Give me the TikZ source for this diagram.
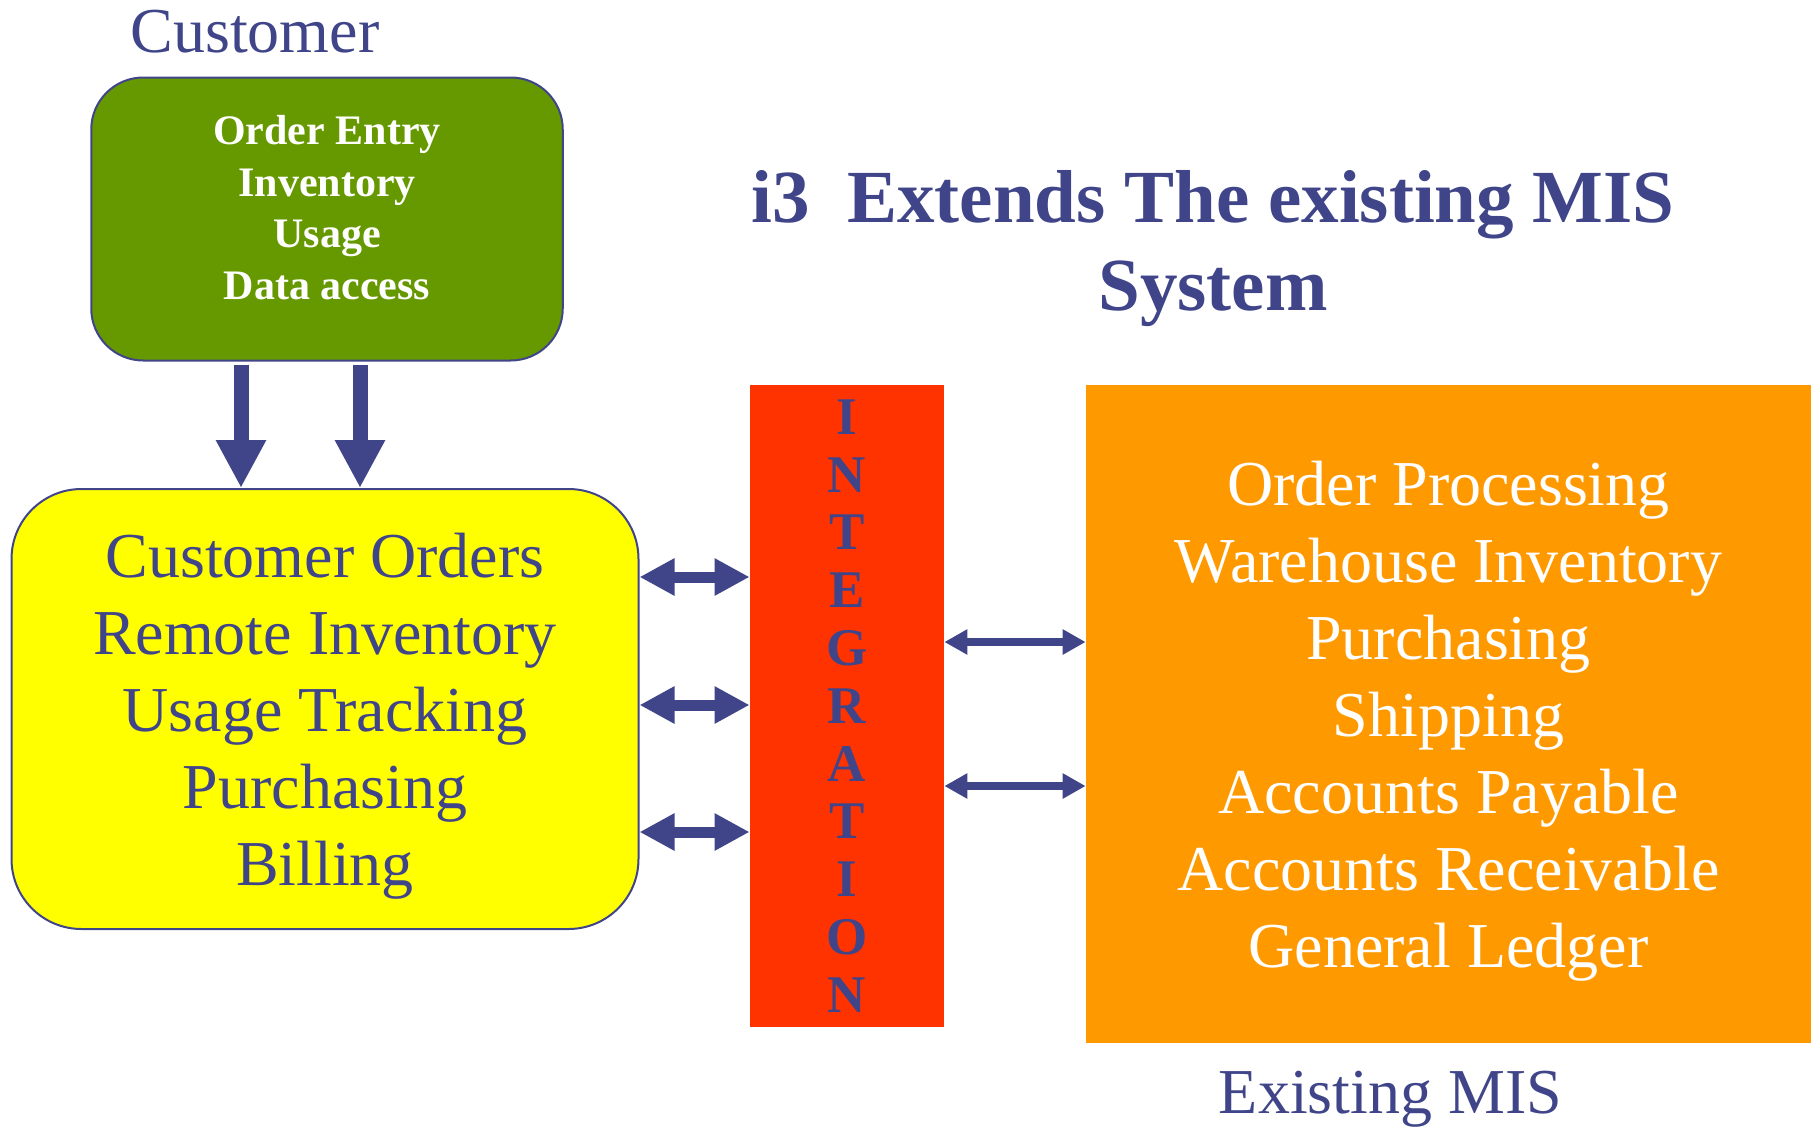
\documentclass[tikz,border=0pt]{standalone}
\usepackage{fontspec}
\setmainfont{Liberation Serif}
\usetikzlibrary{
arrows.meta,
positioning,
}
\definecolor{misblue}{RGB}{64,69,137}
\definecolor{custgreen}{RGB}{102,153,0}
\definecolor{i3yellow}{RGB}{255,255,0}
\definecolor{integred}{RGB}{255,51,0}
\definecolor{misorange}{RGB}{255,153,0}
\tikzset{
every node/.style={align=center, inner sep=0pt},
roundbox/.style={rectangle, draw=misblue, line width=1pt},
flatbox/.style={rectangle},
caption/.style={text=misblue, font=\fontsize{32}{38.5}\selectfont},
fatboth/.style={misblue, line width=5.5pt,
    {Triangle[length=17.5pt,width=17.5pt]}-{Triangle[length=17.5pt,width=17.5pt]}},
thinboth/.style={misblue, line width=4pt,
    {Triangle[length=11.5pt,width=12pt]}-{Triangle[length=11.5pt,width=12pt]}},
fatdown/.style={misblue, line width=7.5pt, shorten <=1.5pt,
    -{Triangle[length=24pt,width=23.5pt]}},
}

\begin{document}
\begin{tikzpicture}[x=0.5pt, y=-0.5pt]
\useasboundingbox (0,0) rectangle (1817,1126);
\node (custlabel) [caption, anchor=base] at (255,52) {Customer};
\node (custbox) [roundbox, fill=custgreen, rounded corners=26pt,
    minimum width=235.75pt, minimum height=141.5pt] at (327,219) {};
\node (custtext) [text=white, font=\bfseries\fontsize{21}{25.8}\selectfont]
    at ([yshift=5.75pt]custbox.center) {Order Entry\\Inventory\\Usage\\Data access};
\node (i3box) [roundbox, fill=i3yellow, rounded corners=35pt, caption, text depth=0pt,
    minimum width=313.5pt, minimum height=220pt] at (325,709)
    {Customer Orders\\Remote Inventory\\Usage Tracking\\Purchasing\\Billing};
\node (integ) [flatbox, fill=integred, minimum width=97pt, minimum height=321pt,
    text=misblue, font=\bfseries\fontsize{26.5}{28.9}\selectfont] at (847,706)
    {I\\N\\T\\E\\G\\R\\A\\T\\I\\O\\N};
\node (mis) [flatbox, fill=misorange, caption, text=white, text depth=0pt,
    minimum width=362.5pt, minimum height=329pt] at (1448.5,714)
    {Order Processing\\Warehouse Inventory\\Purchasing\\Shipping\\Accounts Payable\\Accounts Receivable\\General Ledger};
\node (title) [text=misblue, font=\bfseries\fontsize{37.5}{44}\selectfont] at (1213,248.5)
    {i3\ \ Extends The existing MIS\\System};
\node (mislabel) [caption, anchor=base] at (1390.5,1113) {Existing MIS};

\foreach \xx in {241,360}
    \draw [fatdown] (custbox.south -| \xx,0) -- (i3box.north -| \xx,0);
\foreach \yy in {577,705,832}
    \draw [fatboth] (i3box.east |- 0,\yy) -- (integ.west |- 0,\yy);
\foreach \yy in {642,786}
    \draw [thinboth] (integ.east |- 0,\yy) -- (mis.west |- 0,\yy);
\end{tikzpicture}
\end{document}
